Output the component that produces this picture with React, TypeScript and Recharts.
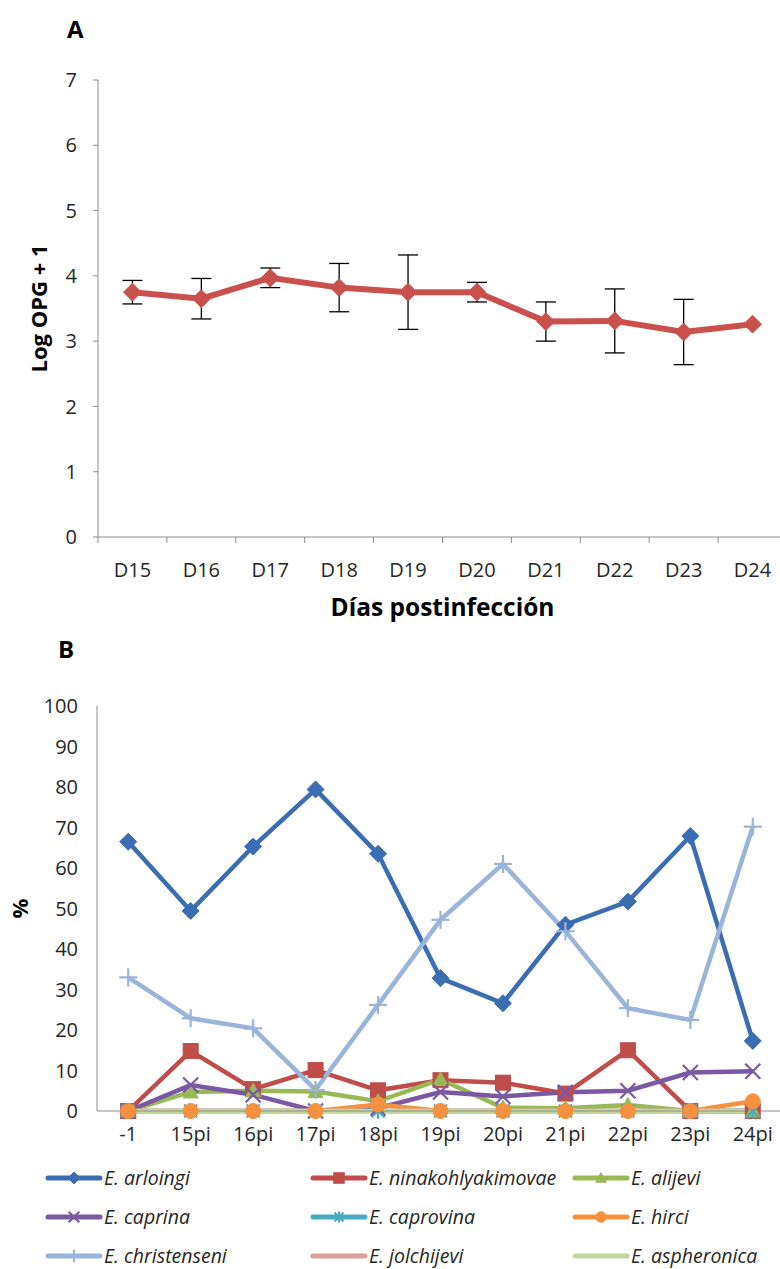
import React from 'react';
import { LineChart, Line, XAxis, YAxis, ErrorBar, Legend } from 'recharts';

// ---------- Panel A data ----------
const daysA = ['D15', 'D16', 'D17', 'D18', 'D19', 'D20', 'D21', 'D22', 'D23', 'D24'];
const logOpg = [3.75, 3.65, 3.97, 3.82, 3.75, 3.75, 3.3, 3.31, 3.14, 3.26];
const logOpgErr = [0.18, 0.31, 0.15, 0.37, 0.57, 0.15, 0.3, 0.49, 0.5, 0];
const ticksA = [0, 1, 2, 3, 4, 5, 6, 7];

// ---------- Panel B data ----------
const daysB = ['-1', '15pi', '16pi', '17pi', '18pi', '19pi', '20pi', '21pi', '22pi', '23pi', '24pi'];
const arloingi = [66.5, 49.4, 65.3, 79.4, 63.5, 32.8, 26.6, 46, 51.7, 67.9, 17.3];
const ninakohlyakimovae = [0, 14.8, 5.4, 10.1, 5.1, 7.6, 7.0, 4.3, 15, 0, 0];
const alijevi = [0, 4.7, 5, 4.8, 2.4, 7.8, 0.8, 0.7, 1.5, 0, 0];
const caprina = [0, 6.4, 4, 0, 0.7, 4.7, 3.6, 4.6, 5, 9.5, 9.8];
const caprovina = [0, 0, 0, 0, 0, 0, 0, 0, 0, 0, 0];
const hirci = [0, 0, 0, 0, 1.6, 0, 0, 0, 0, 0, 2.4];
const christenseni = [33, 22.9, 20.4, 5.2, 26.2, 47.2, 61, 44.4, 25.4, 22.5, 70.2];
const jolchijevi = [0, 0, 0, 0, 0, 0, 0, 0, 0, 0, 0];
const aspheronica = [0, 0, 0, 0, 0, 0, 0, 0, 0, 0, 0];
const ticksB = [0, 10, 20, 30, 40, 50, 60, 70, 80, 90, 100];

const seriesNames = [
  'E. arloingi', 'E. ninakohlyakimovae', 'E. alijevi',
  'E. caprina', 'E. caprovina', 'E. hirci',
  'E. christenseni', 'E. jolchijevi', 'E. aspheronica',
];
const seriesKeys = ['arloingi', 'ninakohlyakimovae', 'alijevi', 'caprina', 'caprovina', 'hirci', 'christenseni', 'jolchijevi', 'aspheronica'];
const seriesValues = [arloingi, ninakohlyakimovae, alijevi, caprina, caprovina, hirci, christenseni, jolchijevi, aspheronica];
const seriesColors = ['#3B6DB2', '#BF4D4A', '#98B955', '#7B58A3', '#48AAC4', '#F5913F', '#9AB4DA', '#DE9E9C', '#C3D79C'];
const seriesShapes = ['diamond', 'square', 'triangle', 'x', 'asterisk', 'circle', 'plus', 'none', 'none'];

const dataA = daysA.map((d, i) => ({ day: d, v: logOpg[i], err: logOpgErr[i] }));
const dataB = daysB.map((d, i) => {
  const row: any = { day: d };
  seriesKeys.forEach((k, j) => { row[k] = seriesValues[j][i]; });
  return row;
});

const FONT = '"Open Sans", sans-serif';
const AXIS_COLOR = '#8C8C8C';
const TEXT_COLOR = '#262626';
const TICK_FS = 20;

function marker(shape: string, cx: number, cy: number, color: string, s: number) {
  switch (shape) {
    case 'diamond': {
      const r = 8.5 * s;
      return <polygon points={`${cx},${cy - r} ${cx + r},${cy} ${cx},${cy + r} ${cx - r},${cy}`} fill={color} stroke={color} strokeWidth={1} />;
    }
    case 'square': {
      const h = 7.5 * s;
      return <rect x={cx - h} y={cy - h} width={2 * h} height={2 * h} fill={color} stroke={color} strokeWidth={1} />;
    }
    case 'triangle': {
      const h = 7.5 * s;
      return <polygon points={`${cx},${cy - h} ${cx + h},${cy + h * 0.8} ${cx - h},${cy + h * 0.8}`} fill={color} stroke={color} strokeWidth={1} />;
    }
    case 'x': {
      const h = 7.5 * s;
      return (
        <g stroke={color} strokeWidth={2.2}>
          <line x1={cx - h} y1={cy - h} x2={cx + h} y2={cy + h} />
          <line x1={cx - h} y1={cy + h} x2={cx + h} y2={cy - h} />
        </g>
      );
    }
    case 'asterisk': {
      const h = 6.5 * s;
      return (
        <g stroke={color} strokeWidth={2}>
          <line x1={cx - h} y1={cy - h} x2={cx + h} y2={cy + h} />
          <line x1={cx - h} y1={cy + h} x2={cx + h} y2={cy - h} />
          <line x1={cx} y1={cy - h * 1.2} x2={cx} y2={cy + h * 1.2} />
        </g>
      );
    }
    case 'circle':
      return <circle cx={cx} cy={cy} r={7.5 * s} fill={color} stroke={color} strokeWidth={1} />;
    case 'plus': {
      const h = 9 * s;
      return (
        <g stroke={color} strokeWidth={2.2}>
          <line x1={cx - h} y1={cy} x2={cx + h} y2={cy} />
          <line x1={cx} y1={cy - h} x2={cx} y2={cy + h} />
        </g>
      );
    }
    default:
      return null;
  }
}

const makeDot = (shape: string, color: string, s: number) => (props: any) => {
  const { cx, cy, index } = props;
  if (cx == null || cy == null || shape === 'none') return <g key={`dot-${index}`} />;
  return <g key={`dot-${index}`}>{marker(shape, cx, cy, color, s)}</g>;
};

// Panel A geometry constants
const A_W = 800;
const A_H = 640;
const A_TOP = 80;
const A_LEFT_AXIS = 98;
const A_RIGHT = 13;
const A_XH = 103;
const A_PLOT_W = A_W - A_LEFT_AXIS - A_RIGHT;
const A_HALF = A_PLOT_W / daysA.length / 2;

const TickA = (props: any) => {
  const { x, y, payload, index } = props;
  const axisY = y - 26;
  return (
    <g>
      <line x1={x - A_HALF} y1={axisY} x2={x - A_HALF} y2={axisY + 6} stroke={AXIS_COLOR} />
      {index === daysA.length - 1 && (
        <line x1={x + A_HALF} y1={axisY} x2={x + A_HALF} y2={axisY + 6} stroke={AXIS_COLOR} />
      )}
      <text x={x} y={y} dy="0.71em" textAnchor="middle" fontFamily={FONT} fontSize={TICK_FS} fill={TEXT_COLOR}>
        {payload.value}
      </text>
    </g>
  );
};

const YLabel = (text: string, dx: number) => (props: any) => {
  const vb = props.viewBox || {};
  const x = (vb.x || 0) + dx;
  const y = (vb.y || 0) + (vb.height || 0) / 2;
  return (
    <text x={x} y={y} transform={`rotate(-90 ${x} ${y})`} textAnchor="middle" dominantBaseline="central"
      fontFamily={FONT} fontWeight={700} fontSize={22} fill="#000">
      {text}
    </text>
  );
};

// Panel B geometry
const B_W = 800;
const B_H = 629;
const B_TOP = 66;
const B_LEFT_AXIS = 97;
const B_RIGHT = 16;
const B_XH = 40;
const B_LEG_H = 118;
const B_PLOT_W = B_W - B_LEFT_AXIS - B_RIGHT;
const B_HALF = B_PLOT_W / daysB.length / 2;

const legendCols = [45, 310, 572];

const LegendB = () => (
  <div style={{ position: 'relative', width: 780, height: B_LEG_H, fontFamily: FONT }}>
    {seriesNames.map((name, i) => {
      const col = i % 3;
      const row = Math.floor(i / 3);
      const left = legendCols[col];
      const top = 7 + row * 39;
      return (
        <div key={name} style={{ position: 'absolute', left, top, height: 39, display: 'flex', alignItems: 'center' }}>
          <svg width={58} height={20} style={{ display: 'block' }}>
            <line x1={3} y1={10} x2={55} y2={10} stroke={seriesColors[i]} strokeWidth={5} strokeLinecap="round" />
            {marker(seriesShapes[i], 29, 10, seriesColors[i], 0.7)}
          </svg>
          <span style={{ fontStyle: 'italic', fontSize: 19.5, color: TEXT_COLOR, marginLeft: 1, whiteSpace: 'nowrap' }}>{name}</span>
        </div>
      );
    })}
  </div>
);

export default function App() {
  return (
    <div style={{ position: 'absolute', left: 0, top: 0, width: 780, height: 1269, overflow: 'hidden', background: '#fff' }}>
      <div style={{ position: 'absolute', left: 67, top: 14, fontFamily: FONT, fontWeight: 700, fontSize: 24, lineHeight: '30px', color: '#000' }}>A</div>
      <div style={{ position: 'absolute', left: 0, top: 0 }}>
        <LineChart width={A_W} height={A_H} data={dataA} margin={{ top: A_TOP, right: A_RIGHT, left: 0, bottom: 0 }}>
          <XAxis dataKey="day" height={A_XH} padding={{ left: A_HALF, right: A_HALF }} interval={0}
            axisLine={{ stroke: AXIS_COLOR }} tickLine={false} tickSize={0} tickMargin={26} tick={<TickA />}
            label={{ value: 'Días postinfección', position: 'insideBottom', offset: 24, style: { fontFamily: FONT, fontWeight: 700, fontSize: 24.5, fill: '#000' } }} />
          <YAxis width={A_LEFT_AXIS} domain={[0, 7]} ticks={ticksA} interval={0}
            axisLine={{ stroke: AXIS_COLOR }} tickLine={{ stroke: AXIS_COLOR }} tickSize={5} tickMargin={16}
            tick={{ fontFamily: FONT, fontSize: TICK_FS, fill: TEXT_COLOR }}
            label={YLabel('Log OPG + 1', 38)} />
          <Line dataKey="v" stroke="#C9504C" strokeWidth={6} isAnimationActive={false}
            dot={makeDot('diamond', '#C9504C', 1.05)} activeDot={false}>
            <ErrorBar dataKey="err" width={10} stroke="#000" strokeWidth={1.3} direction="y" />
          </Line>
        </LineChart>
      </div>

      <div style={{ position: 'absolute', left: 58, top: 634, fontFamily: FONT, fontWeight: 700, fontSize: 24, lineHeight: '30px', color: '#000' }}>B</div>
      <div style={{ position: 'absolute', left: 0, top: 640 }}>
        <LineChart width={B_W} height={B_H} data={dataB} margin={{ top: B_TOP, right: B_RIGHT, left: 0, bottom: 0 }}>
          <XAxis dataKey="day" height={B_XH} padding={{ left: B_HALF, right: B_HALF }} interval={0}
            axisLine={{ stroke: AXIS_COLOR }} tickLine={false} tickSize={0} tickMargin={16}
            tick={{ fontFamily: FONT, fontSize: TICK_FS, fill: TEXT_COLOR }} />
          <YAxis width={B_LEFT_AXIS} domain={[0, 100]} ticks={ticksB} interval={0}
            axisLine={{ stroke: AXIS_COLOR }} tickLine={false} tickSize={0} tickMargin={19}
            tick={{ fontFamily: FONT, fontSize: TICK_FS, fill: TEXT_COLOR }}
            label={YLabel('%', 19)} />
          <Legend verticalAlign="bottom" content={<LegendB />} wrapperStyle={{ left: 0, bottom: 0, width: 780, height: B_LEG_H }} />
          {seriesKeys.map((k, i) => (
            <Line key={k} dataKey={k} name={seriesNames[i]} stroke={seriesColors[i]} strokeWidth={4.5}
              isAnimationActive={false} activeDot={false}
              dot={makeDot(seriesShapes[i], seriesColors[i], 1)} />
          ))}
        </LineChart>
      </div>
    </div>
  );
}
